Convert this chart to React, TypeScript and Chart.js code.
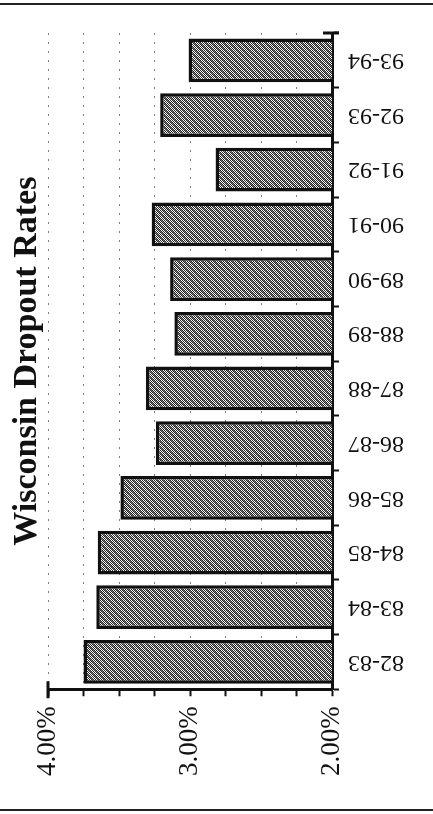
import React, { useEffect, useRef } from 'react';
import { Chart, registerables } from 'chart.js';

Chart.register(...registerables);

const chartTitle = 'Wisconsin Dropout Rates';
const schoolYears = ['82-83', '83-84', '84-85', '85-86', '86-87', '87-88', '88-89', '89-90', '90-91', '91-92', '92-93', '93-94'];
const dropoutRates = [3.75, 3.66, 3.65, 3.49, 3.24, 3.31, 3.11, 3.14, 3.27, 2.82, 3.21, 3.01];
const axisMin = 2;
const axisMax = 4;
const tickStep = 0.25;
const labelledTicks = [2, 3, 4];

const SERIF = '"Liberation Serif", "Times New Roman", serif';
const INK = '#111';

function makePattern(): CanvasPattern | string {
  const c = document.createElement('canvas');
  c.width = 6;
  c.height = 6;
  const g = c.getContext('2d');
  if (!g) return '#999';
  g.fillStyle = '#fff';
  g.fillRect(0, 0, 6, 6);
  for (let y = 0; y < 6; y++) {
    for (let x = 0; x < 6; x++) {
      if ((x + y) % 2 === 0) {
        g.fillStyle = '#262626';
        g.fillRect(x, y, 1, 1);
      } else if ((((x - y) % 6) + 6) % 6 === 1) {
        g.fillStyle = '#7a7a7a';
        g.fillRect(x, y, 1, 1);
      }
    }
  }
  return g.createPattern(c, 'repeat') ?? '#999';
}

const categoryLabelPlugin = {
  id: 'upsideDownCategoryLabels',
  afterDraw(chart: any) {
    const ys = chart.scales.y;
    const area = chart.chartArea;
    const ctx = chart.ctx as CanvasRenderingContext2D;
    ctx.save();
    ctx.font = `24px ${SERIF}`;
    ctx.fillStyle = INK;
    ctx.textAlign = 'right';
    ctx.textBaseline = 'middle';
    schoolYears.forEach((label, i) => {
      const y = ys.getPixelForValue(i);
      ctx.save();
      ctx.translate(area.right + 16, y);
      ctx.rotate(Math.PI);
      ctx.fillText(label, 0, 0);
      ctx.restore();
    });
    // axis end caps
    ctx.strokeStyle = INK;
    ctx.lineWidth = 3;
    ctx.beginPath();
    ctx.moveTo(area.left, area.bottom - 8);
    ctx.lineTo(area.left, area.bottom + 9);
    ctx.moveTo(area.right - 9, area.top);
    ctx.lineTo(area.right + 7, area.top);
    ctx.stroke();
    ctx.restore();
  },
};

export default function App() {
  const canvasRef = useRef<HTMLCanvasElement | null>(null);

  useEffect(() => {
    const canvas = canvasRef.current;
    if (!canvas) return;
    const pattern = makePattern();
    const chart = new Chart(canvas, {
      type: 'bar',
      data: {
        labels: schoolYears,
        datasets: [
          {
            data: dropoutRates,
            backgroundColor: pattern as any,
            borderColor: INK,
            borderWidth: 3.5,
            borderSkipped: false,
            barPercentage: 0.8,
            categoryPercentage: 1,
          },
        ],
      },
      options: {
        indexAxis: 'y',
        responsive: false,
        animation: false,
        devicePixelRatio: 1,
        layout: { padding: { top: 33, right: 94, bottom: 28, left: 0 } },
        plugins: {
          legend: { display: false },
          tooltip: { enabled: false },
          title: {
            display: true,
            text: chartTitle,
            position: 'left',
            fullSize: false,
            color: INK,
            font: { family: SERIF, size: 34, weight: 'bold', lineHeight: 1 },
            padding: { top: 10, bottom: 4 },
          },
        },
        scales: {
          x: {
            type: 'linear',
            position: 'bottom',
            min: axisMin,
            max: axisMax,
            reverse: true,
            ticks: {
              stepSize: tickStep,
              autoSkip: false,
              minRotation: 90,
              maxRotation: 90,
              padding: 10,
              color: INK,
              font: { family: SERIF, size: 27 },
              callback: (v: any) => (labelledTicks.includes(Number(v)) ? Number(v).toFixed(2) + '%' : ''),
            },
            grid: {
              color: 'rgba(0,0,0,0.5)',
              lineWidth: 1,
              drawTicks: true,
              tickLength: 7,
              tickWidth: 2,
              tickColor: INK,
              tickBorderDash: [],
            },
            border: { display: true, color: INK, width: 3, dash: [2, 7] },
          },
          y: {
            type: 'category',
            position: 'right',
            reverse: true,
            offset: true,
            ticks: { display: false },
            grid: {
              offset: true,
              drawOnChartArea: false,
              drawTicks: true,
              tickLength: 7,
              tickWidth: 2,
              tickColor: INK,
            },
            border: { display: true, color: INK, width: 3 },
          },
        },
      },
      plugins: [categoryLabelPlugin],
    });
    return () => chart.destroy();
  }, []);

  return (
    <div style={{ position: 'absolute', left: 0, top: 0, width: 433, height: 814, background: '#fff', overflow: 'hidden' }}>
      <canvas ref={canvasRef} width={433} height={814} style={{ display: 'block', position: 'absolute', left: 0, top: 0 }} />
      <div style={{ position: 'absolute', left: 0, top: 3, width: 433, height: 2, background: '#222' }} />
      <div style={{ position: 'absolute', left: 0, top: 809, width: 433, height: 2, background: '#222' }} />
    </div>
  );
}
